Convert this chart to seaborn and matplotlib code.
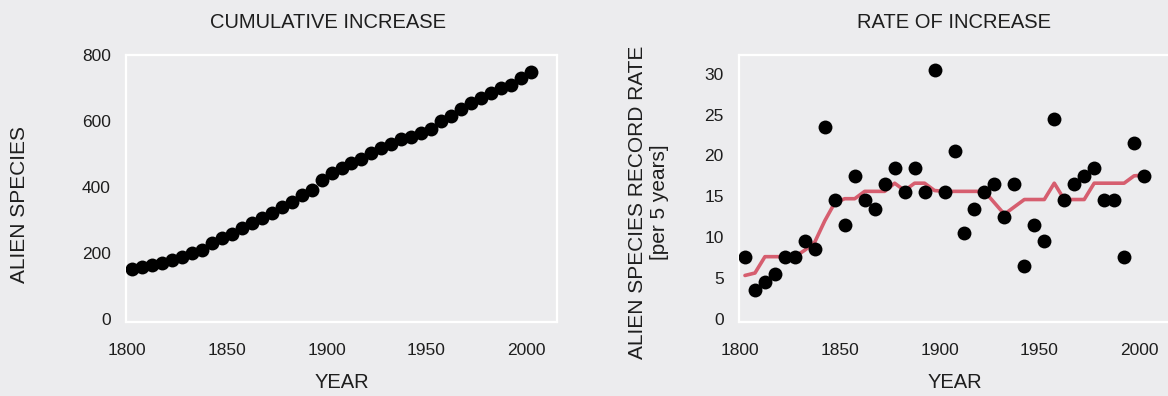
import matplotlib
matplotlib.use("Agg")
from matplotlib import pyplot as plt
import pandas as pd
import seaborn as sns

# 5-year bin midpoints
years = [1802.5 + 5 * k for k in range(41)]

# cumulative number of alien species
cumulative = [152, 157, 162, 169, 177, 187, 198, 208, 230, 245,
              258, 275, 291, 304, 321, 339, 354, 375, 390, 422,
              441, 458, 471, 486, 502, 517, 530, 545, 552, 562,
              574, 600, 615, 635, 653, 669, 684, 699, 709, 729, 748]

# record rate per 5 years (dots, right panel)
rate = [7.5, 3.5, 4.5, 5.5, 7.5, 7.5, 9.5, 8.5, 23.5, 14.5,
        11.5, 17.5, 14.5, 13.5, 16.5, 18.5, 15.5, 18.5, 15.5, 30.5,
        15.5, 20.5, 10.5, 13.5, 15.5, 16.5, 12.5, 16.5, 6.5, 11.5,
        9.5, 24.5, 14.5, 16.5, 17.5, 18.5, 14.5, 14.5, 7.5, 21.5, 17.5]

# smoothed trend (red line, right panel)
trend = [5.3, 5.6, 7.6, 7.6, 7.6, 7.6, 8.4, 9.4, 12.0, 14.2,
         14.7, 14.7, 15.6, 15.6, 15.6, 16.6, 15.7, 16.6, 16.6, 15.7,
         15.6, 15.6, 15.6, 15.6, 15.6, 14.2, 12.8, 13.7, 14.6, 14.6,
         14.6, 16.6, 14.6, 14.6, 14.6, 16.6, 16.6, 16.6, 16.6, 17.5, 17.6]

df = pd.DataFrame({"year": years, "cumulative": cumulative, "rate": rate, "trend": trend})

bg = "#ECECEE"
txt = "#1E1E1E"
sns.set_theme(style="white", rc={
    "axes.facecolor": bg,
    "figure.facecolor": bg,
    "axes.edgecolor": "white",
    "axes.linewidth": 1.6,
    "axes.grid": False,
    "xtick.color": txt,
    "ytick.color": txt,
    "text.color": txt,
    "axes.labelcolor": txt,
})
plt.rcParams["font.family"] = ["Liberation Sans", "DejaVu Sans"]

fig = plt.figure(figsize=(11.68, 3.96), dpi=100)
ax1 = fig.add_axes([126 / 1168, 74 / 396, 431 / 1168, 267 / 396])
ax2 = fig.add_axes([739 / 1168, 74 / 396, 431 / 1168, 267 / 396])

sns.scatterplot(data=df, x="year", y="cumulative", ax=ax1, color="black",
                s=100, linewidth=0, zorder=3)
sns.lineplot(data=df, x="year", y="trend", ax=ax2, color="#D65E6F",
             linewidth=2.6, zorder=2)
sns.scatterplot(data=df, x="year", y="rate", ax=ax2, color="black",
                s=100, linewidth=0, zorder=3)

ax1.set_xlim(1799.5, 2015.5)
ax1.set_ylim(-10, 800)
ax1.set_yticks([0, 200, 400, 600, 800])
ax2.set_xlim(1799.5, 2015.5)
ax2.set_ylim(-0.4, 32.3)
ax2.set_yticks([0, 5, 10, 15, 20, 25, 30])

for ax in (ax1, ax2):
    ax.set_xticks([1800, 1850, 1900, 1950, 2000])
    ax.tick_params(axis="x", length=0, pad=15, labelsize=12.5)
    ax.tick_params(axis="y", length=0, pad=11, labelsize=12.5)
    for sp in ax.spines.values():
        sp.set_visible(True)
        sp.set_color("white")
    ax.set_xlabel("YEAR", fontsize=14.5, va="top")
    ax.xaxis.set_label_coords(0.5, -0.19)

ax1.set_ylabel("ALIEN SPECIES", fontsize=15)
ax1.yaxis.set_label_coords(-0.225, 0.44)
ax2.set_ylabel("ALIEN SPECIES RECORD RATE\n[per 5 years]", fontsize=15, linespacing=1.15)
ax2.yaxis.set_label_coords(-0.163, 0.45)

fig.text(328 / 1168, 1 - 23 / 396, "CUMULATIVE INCREASE", ha="center", va="center", fontsize=14.5)
fig.text(954 / 1168, 1 - 23 / 396, "RATE OF INCREASE", ha="center", va="center", fontsize=14.5)

fig.savefig("out.png", dpi=100, facecolor=bg)
